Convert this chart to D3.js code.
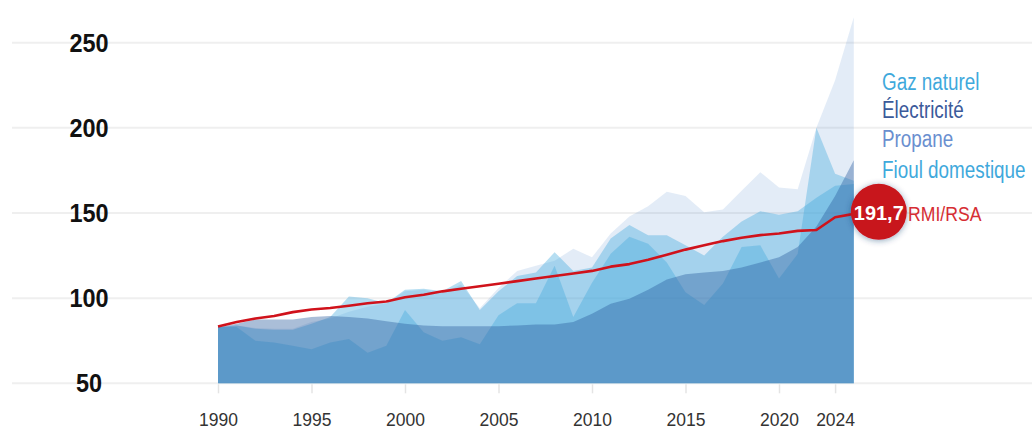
<!DOCTYPE html>
<html>
<head>
<meta charset="utf-8">
<script src="https://cdn.jsdelivr.net/npm/d3@7"></script>
<style>
  body { margin: 0; background: #fff; }
  svg { display: block; }
</style>
</head>
<body>
<div class="chart"></div>
<script>
const years = [1990, 1991, 1992, 1993, 1994, 1995, 1996, 1997, 1998, 1999,
               2000, 2001, 2002, 2003, 2004, 2005, 2006, 2007, 2008, 2009,
               2010, 2011, 2012, 2013, 2014, 2015, 2016, 2017, 2018, 2019,
               2020, 2021, 2022, 2023, 2024];

const propane = [83, 84, 82.5, 82, 82, 86, 88, 92, 95, 97,
                 104, 105, 103, 108, 94, 106, 116, 119, 122, 129,
                 124, 138, 148, 154, 162.5, 160, 150.5, 152, 163, 174,
                 165, 164, 200, 228, 265];
const gaz = [83, 84, 82, 81.5, 81.5, 85, 89, 101, 100, 97,
             105, 105.5, 104, 110, 93, 104, 113, 115, 127, 116,
             118, 135, 143, 137, 137, 131, 125, 136, 145, 151,
             149, 151, 159, 166, 167];
const fioul = [83, 83, 75, 74, 72, 70, 74, 76, 68, 72,
               93, 80, 75, 77, 73, 90, 97, 97, 119, 89,
               109, 126, 136, 132, 121, 103.5, 96, 108.6, 130, 131,
               111.5, 126, 200, 173, 169];
const electricite = [83, 85, 87.5, 87.5, 87.5, 89, 89.5, 89, 88, 86.5,
                     85, 84, 83.5, 83.5, 83.5, 83.5, 84, 84.5, 84.5, 86,
                     90.8, 96.7, 99.6, 105, 111, 114, 115, 116, 118, 121,
                     124, 130, 142, 160, 181];
const rsa = [83.4, 86, 88, 89.5, 91.8, 93.3, 94.2, 95.5, 97, 98,
             100.5, 102, 104, 105.5, 107, 108.5, 110, 111.5, 113, 114.5,
             116, 118.5, 120, 122.5, 125.5, 128.5, 131, 133.5, 135.5, 137,
             138, 139.5, 140, 147.5, 149.5];

const yTicks = [50, 100, 150, 200, 250];
// the last label sits one year early in the original
const xTickYears = [1990, 1995, 2000, 2005, 2010, 2015, 2020, 2023];
const xTickLabels = ["1990", "1995", "2000", "2005", "2010", "2015", "2020", "2024"];

const legendNames = ["Gaz naturel", "Électricité", "Propane", "Fioul domestique"];
const legendColors = ["#3fa9dc", "#3b5a9a", "#6a8fcf", "#3fa9dc"];
const rsaLabel = "191,7";

const width = 1032, height = 430;
const font = '"Liberation Sans", Arial, sans-serif';

const svg = d3.select('.chart')
    .append('svg')
    .attr('width', width)
    .attr('height', height);

const x = d3.scaleLinear().domain([1990, 2024]).range([218, 853.8]);
const y = d3.scaleLinear().domain([50, 250]).range([383.3, 42.7]);

const defs = svg.append('defs');
const shadow = defs.append('filter').attr('id', 'shadow')
    .attr('x', '-50%').attr('y', '-50%').attr('width', '200%').attr('height', '200%');
shadow.append('feDropShadow')
    .attr('dx', 0).attr('dy', 1).attr('stdDeviation', 3)
    .attr('flood-color', '#1c3c6c').attr('flood-opacity', 0.45);

// grid
svg.append('g')
    .selectAll('line')
    .data(yTicks)
    .enter()
    .append('line')
    .attr('x1', 12).attr('x2', width)
    .attr('y1', d => y(d)).attr('y2', d => y(d))
    .attr('stroke', '#efefef')
    .attr('stroke-width', 2);

// y labels (narrowed a bit, the original face is condensed)
svg.append('g')
    .selectAll('text')
    .data(yTicks)
    .enter()
    .append('text')
    .attr('transform', d => `translate(89,${y(d) + 9}) scale(0.92,1)`)
    .attr('text-anchor', 'middle')
    .attr('font-family', font)
    .attr('font-weight', 'bold')
    .attr('font-size', 25.5)
    .attr('fill', '#111')
    .text(d => d);

// x axis ticks
const xAxis = d3.axisBottom(x)
    .tickValues(xTickYears)
    .tickFormat((d, i) => xTickLabels[i])
    .tickSize(9)
    .tickPadding(20);
const gx = svg.append('g')
    .attr('transform', `translate(0,${y(50) + 1})`)
    .call(xAxis);
gx.select('.domain').remove();
gx.selectAll('.tick line').attr('stroke', '#e4e4e4').attr('stroke-width', 1.5);
gx.selectAll('.tick text')
    .attr('font-family', font)
    .attr('font-size', 17.5)
    .attr('fill', '#333');

// areas
const series = [
    { values: propane, color: '#5b8fd0', opacity: 0.17 },
    { values: gaz, color: '#3fa9dc', opacity: 0.38 },
    { values: fioul, color: '#3fa9dc', opacity: 0.37 },
    { values: electricite, color: '#2a5d9e', opacity: 0.4 }
];

const area = d3.area()
    .x((d, i) => x(years[i]))
    .y0(y(50))
    .y1(d => y(d));

svg.append('g')
    .selectAll('path')
    .data(series)
    .enter()
    .append('path')
    .attr('d', d => area(d.values))
    .attr('fill', d => d.color)
    .attr('fill-opacity', d => d.opacity);

// RMI/RSA line
const line = d3.line()
    .x((d, i) => x(years[i]))
    .y(d => y(d));

svg.append('path')
    .attr('d', line(rsa))
    .attr('fill', 'none')
    .attr('stroke', '#d0121b')
    .attr('stroke-width', 2.6)
    .attr('stroke-linejoin', 'round');

// end bubble
const lastY = y(rsa[rsa.length - 1]);
svg.append('circle')
    .attr('cx', x(2024) + 25)
    .attr('cy', lastY - 2)
    .attr('r', 28)
    .attr('fill', '#c8141c')
    .attr('filter', 'url(#shadow)');

svg.append('text')
    .attr('transform', `translate(${x(2024) + 25},${lastY + 6}) scale(0.95,1)`)
    .attr('text-anchor', 'middle')
    .attr('font-family', font)
    .attr('font-weight', 'bold')
    .attr('font-size', 21)
    .attr('fill', '#fff')
    .text(rsaLabel);

svg.append('text')
    .attr('transform', `translate(908,${lastY + 7}) scale(0.84,1)`)
    .attr('font-family', font)
    .attr('font-size', 21)
    .attr('fill', '#d62d33')
    .text('RMI/RSA');

// legend
const legendY = [89.5, 118, 147, 178];
svg.append('g')
    .selectAll('text')
    .data(legendNames)
    .enter()
    .append('text')
    .attr('transform', (d, i) => `translate(882,${legendY[i]}) scale(0.82,1)`)
    .attr('font-family', font)
    .attr('font-size', 23)
    .attr('fill', (d, i) => legendColors[i])
    .text(d => d);
</script>
</body>
</html>
